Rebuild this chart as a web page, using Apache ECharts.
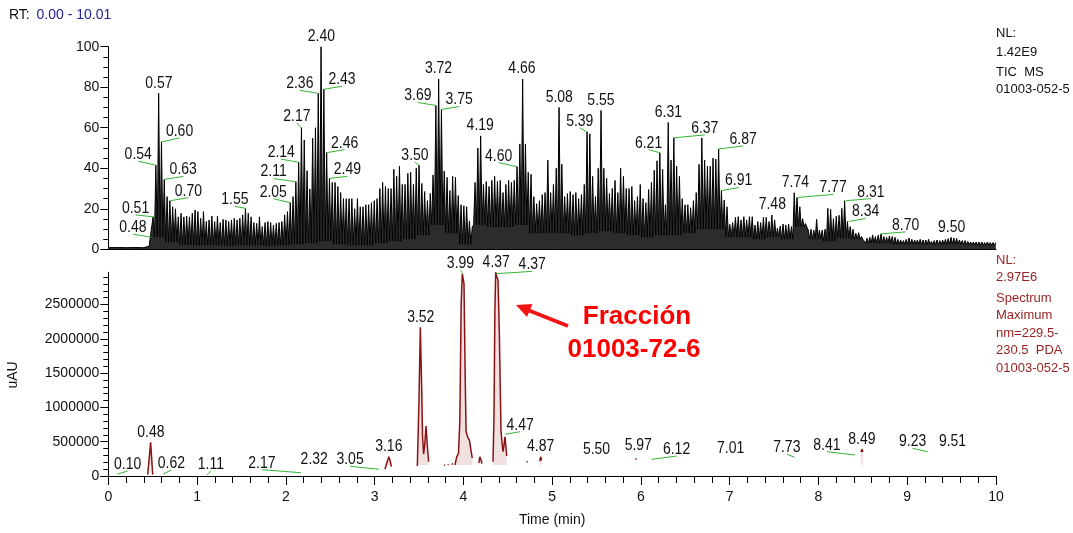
<!DOCTYPE html>
<html><head><meta charset="utf-8">
<script src="https://cdn.jsdelivr.net/npm/echarts@6/dist/echarts.min.js"></script>
<style>html,body{margin:0;padding:0;background:#fff}#c{width:1073px;height:533px}</style>
</head><body><div id="c"></div>
<script>
// ---------- tick labels ----------
const X_TICKS = [0,1,2,3,4,5,6,7,8,9,10];
const TIC_Y_TICKS = [0,20,40,60,80,100];
const PDA_Y_TICKS = [0,500000,1000000,1500000,2000000,2500000];
const PDA_Y_MAX = 2970000;            // NL: 2.97E6

// ---------- TIC (relative abundance, %) ----------
const TIC_SCAN_START = 0.4728;        // first scan time (min)
const TIC_SCAN_STEP = 0.03154;        // scan spacing (min)
const TIC_LEAD_T = [0.00,0.10,0.20,0.30,0.40,0.46];
const TIC_LEAD_V = [0.8,0.9,0.8,0.9,0.8,1.5];
const TIC_PEAKS = [
6,16,41.5,77,53,34.5,26,24,21,20,
16,17.8,16,16.4,16,17.8,19.4,18.6,15.3,18.6,
13.7,14.5,16.4,13.7,16.4,13.2,14.8,14.5,13.7,14.5,
15.3,14.5,15.3,17,20.2,17.8,16,13.2,12.8,16,
11.2,13.2,13.7,13.2,12,12.8,13.2,13.7,17,18.6,
23,26,33.4,43,60,54,38.8,29.8,54.8,60,
77,100,79,47.7,35,33,33,31,28,25,
25,25,25,20,25,21,21,22,22,23,
24,25,30,33,31,30,30,39.5,36,41,
32,32,37.5,38,32,40,41.5,32.5,28.5,24,
27.6,36.7,71,84,69,38.6,35.5,29,36,35.5,
26.5,22,21.5,21,14,11,33,50,56,32,
33.4,31,34,36,33.5,34,28,32,34,33,
34,40.8,52,84,52,38,37,26,22.5,24,
27,28,44,28,32,40,70,42,26,27.5,
28.5,27,28,25,27,32,58,57,36,26,
40,68.5,40,35,27.5,30,34,28,40,36,
30,30,31,24,26,32,25,23,29.5,33,
39,43.7,47.7,39.5,22,62.6,44,55,41,36,
25,22,22,20.5,24,28,42,55,44,41,
41,45,44.5,49.5,29,24.3,21,12.3,13.2,15.8,
16.1,14.5,16.1,14.5,16.1,16.1,12,13.7,13.2,15.8,
15.8,13.7,16.9,14.5,10.4,11.5,12.5,12,12.5,11.2,
27.9,25.6,21,15.1,12.7,9.5,9.9,9.5,14.8,9.5,
9.5,9.9,20.2,19.7,15.1,16.3,16.8,20.2,24,13.7,
11.2,9.9,7.9,8.2,6.3,4.6,5.4,5.9,7.1,6.3,
7.1,7.6,6.3,5.9,6.6,6.3,5.9,4.9,4.6,4.3,
4.9,5.6,4.9,4.6,4.6,4.9,4.6,4.6,4.9,3.9,
4.3,4.6,4.3,4.6,4.9,5.3,5.9,5.6,5.3,4.6,
4.3,4.3,3.9,3.6,3.6,3.6,3.6,3.6,3.3,3.6,
3.3,3.3,3.3];
// dark floor level between scans, one value per block of 5 scans
const TIC_FLOOR = [
6,3.5,2.2,2,2,1.8,2,2,1.8,2,
2.5,3,4,2.5,2,2,3,4,5,7,
12,8,2.5,12,11,11,12,8,8,8,
7,8,9,8,7,6,7,7,8,10,
10,6,6,5,6,5,11,5,4,5.5,
5,3,3,2.5,2.5,2.3,2.3,2.5,2.2,2,
2];

const TIC_LABELS = ["0.48","0.51","0.54","0.57","0.60","0.63","0.70","1.55","2.05","2.11","2.14","2.17","2.36","2.40","2.43","2.46","2.49","3.50","3.69","3.72","3.75","4.19","4.60","4.66","5.08","5.39","5.55","6.21","6.31","6.37","6.87","6.91","7.48","7.74","7.77","8.31","8.34","8.70","9.50"];
const TIC_LABEL_V = [6,16,41.5,77,53,34.5,24,20.2,23,33.4,43,60,77,100,79,47.7,35,41.5,71,84,69,56,40.8,84,70,58,68.5,47.7,62.6,55,49.5,29,17,27.9,25.6,24,13.7,7.6,5.9];

// ---------- PDA (uAU) ----------
const PDA_TIME = [
0.444,0.477,0.50,0.51,
3.117,3.14,3.16,3.175,3.19,3.20,
3.481,3.50,3.515,3.53,3.54,3.552,3.565,3.579,3.595,3.609,3.62,
3.785,3.792,3.80,
3.825,3.832,3.84,
3.87,3.88,3.89,
3.905,3.925,3.945,3.96,3.975,3.988,4.0,4.007,4.02,4.03,4.05,4.067,4.085,4.10,4.11,
4.175,4.185,4.20,4.21,4.22,
4.334,4.345,4.355,4.364,4.377,4.39,4.405,4.424,4.446,4.458,4.469,4.488,4.50,
4.715,4.722,4.73,
4.86,4.87,4.882,4.89,
5.94,5.948,5.95,
8.48,8.49,8.50];
const PDA_VALUE = [
20000,490000,20000,null,
98000,200000,281000,220000,136000,null,
146000,1100000,2168000,1300000,573000,320000,460000,729000,420000,208000,null,
150000,165000,null,
160000,170000,null,
165000,185000,null,
160000,280000,330000,800000,2500000,2950000,2930000,2800000,1500000,650000,560000,525000,380000,262000,null,
190000,280000,230000,180000,null,
208000,900000,2400000,2970000,2900000,2857000,2084000,646000,354000,450000,573000,292000,null,
200000,215000,null,
215000,280000,230000,null,
240000,258000,null,
350000,389000,350000];

const PDA_LABELS = ["0.10","0.48","0.62","1.11","2.17","2.32","3.05","3.16","3.52","3.99","4.37","4.37","4.47","4.87","5.50","5.97","6.12","7.01","7.73","8.41","8.49","9.23","9.51"];
const PDA_LABEL_V = [25000,490000,29000,15000,48000,87000,98000,281000,2168000,2955000,2970000,2950000,608000,280000,233000,300000,243000,258000,272000,306000,389000,354000,354000];

// ---------- label layout (pixel offsets of leader-line ends; 0 = no leader) ----------
const TIC_LBL_DX = [-18,-18,-18,0,18,19,18,-11,-17,-22,-17,-4,-18,0,18,18,18,-4,-18,0,18,0,-18,0,0,-7,0,-11,0,31,25,17,0,0,35,25,17,25,0];
const TIC_LBL_DY = [-3,-2,-4,0,-4,-3,-3,-2,-4,-3,-3,-5,-3,0,-3,-3,-2,-3,-3,0,-3,0,-4,0,0,-4,0,-3,0,-3,-3,-3,0,0,-3,-2,-3,-2,0];
const TIC_LBL_LINE = [1,1,1,0,1,1,1,1,1,1,1,1,1,0,1,1,1,1,1,0,1,0,1,0,0,1,0,1,0,1,1,1,0,0,1,1,1,1,0];
const PDA_LBL_DX = [10.5,0,8,4,-39,0,-29,0,0,-2,0,36,15,0,0,0,25,0,-7.7,-28,0,-15,0];
const PDA_LBL_DY = [-3.3,0,-4,-4,-3,0,-3,0,0,-3,0,-2.3,-2.6,0,0,0,-3.3,0,-3.3,-3.3,0,-3.4,0];
const PDA_LBL_LINE = [1,0,1,1,1,0,1,0,0,1,0,1,1,0,0,0,1,0,1,1,0,1,0];

// ---------- build ----------
const FONT = '"Liberation Sans", Arial, sans-serif';

const ticData = TIC_LEAD_T.map((t, i) => [t, TIC_LEAD_V[i]]);
TIC_PEAKS.forEach((v, i) => {
  const t = TIC_SCAN_START + i * TIC_SCAN_STEP;
  ticData.push([t, v]);
  if (i < TIC_PEAKS.length - 1) ticData.push([t + TIC_SCAN_STEP / 2, TIC_FLOOR[Math.floor(i / 5)]]);
});
const pdaData = PDA_TIME.map((t, i) => [t, PDA_VALUE[i] === null ? '-' : PDA_VALUE[i]]);

function labelSeries(idx, texts, vals, dxs, dys, lines) {
  return {
    type: 'custom', xAxisIndex: idx, yAxisIndex: idx, clip: false, z: 10, silent: true,
    data: texts.map((s, i) => [parseFloat(s), vals[i], i]),
    encode: { x: 0, y: 1 },
    renderItem: function (params, api) {
      const i = api.value(2);
      const p = api.coord([api.value(0), api.value(1)]);
      const children = [];
      let tx, ty;
      if (lines[i]) {
        const ex = p[0] + dxs[i], ey = p[1] + dys[i];
        children.push({ type: 'line', shape: { x1: p[0], y1: p[1], x2: ex, y2: ey },
          style: { stroke: '#33b533', lineWidth: 1 } });
        tx = ex; ty = ey - 6.5;
      } else { tx = p[0]; ty = p[1] - 10; }
      children.push({ type: 'text', x: tx, y: ty, scaleY: 1.13,
        style: { text: texts[i], fill: '#111', font: '14px ' + FONT, align: 'center', verticalAlign: 'middle' } });
      return { type: 'group', children: children };
    }
  };
}

const axisColor = '#000';
const chart = echarts.init(document.getElementById('c'), null, { renderer: 'canvas' });
chart.setOption({
  animation: false,
  backgroundColor: '#fff',
  grid: [
    { left: 108.3, top: 46.7, width: 887.7, height: 202.6, outerBoundsMode: 'none' },
    { left: 108.3, top: 272.3, width: 887.7, height: 203.7, outerBoundsMode: 'none' }
  ],
  xAxis: [
    { type: 'value', gridIndex: 0, min: 0, max: 10, interval: 1,
      axisLine: { show: true, onZero: false, lineStyle: { color: axisColor, width: 1 } },
      axisTick: { show: false }, axisLabel: { show: false }, splitLine: { show: false }, minorTick: { show: false } },
    { type: 'value', gridIndex: 1, min: 0, max: 10, interval: 1,
      axisLine: { show: true, onZero: false, lineStyle: { color: axisColor, width: 1 } },
      axisTick: { show: true, length: 9, customValues: X_TICKS, lineStyle: { color: axisColor } },
      minorTick: { show: true, splitNumber: 5, length: 7, lineStyle: { color: axisColor } },
      axisLabel: { customValues: X_TICKS, margin: 14, color: '#111', fontSize: 14, fontFamily: FONT },
      splitLine: { show: false }, minorSplitLine: { show: false },
      name: 'Time (min)', nameLocation: 'middle', nameGap: 37,
      nameTextStyle: { color: '#111', fontSize: 14, fontFamily: FONT } }
  ],
  yAxis: [
    { type: 'value', gridIndex: 0, min: 0, max: 100, interval: 20,
      axisLine: { show: true, onZero: false, lineStyle: { color: axisColor, width: 1 } },
      axisTick: { show: true, length: 8, customValues: TIC_Y_TICKS, lineStyle: { color: axisColor } },
      minorTick: { show: true, splitNumber: 4, length: 5, lineStyle: { color: axisColor } },
      axisLabel: { customValues: TIC_Y_TICKS, margin: 9, color: '#111', fontSize: 14, fontFamily: FONT },
      splitLine: { show: false } },
    { type: 'value', gridIndex: 1, min: 0, max: PDA_Y_MAX, interval: 500000,
      axisLine: { show: true, onZero: false, lineStyle: { color: axisColor, width: 1 } },
      axisTick: { show: true, length: 8, customValues: PDA_Y_TICKS, lineStyle: { color: axisColor } },
      minorTick: { show: true, splitNumber: 5, length: 5, lineStyle: { color: axisColor } },
      axisLabel: { customValues: PDA_Y_TICKS, margin: 9, color: '#111', fontSize: 14, fontFamily: FONT,
        formatter: v => String(v) },
      splitLine: { show: false } }
  ],
  series: [
    { type: 'line', xAxisIndex: 0, yAxisIndex: 0, data: ticData, symbol: 'none', showSymbol: false,
      sampling: null, lineStyle: { color: '#000', width: 1 },
      areaStyle: { color: '#151515', opacity: 0.9, origin: 'start' }, z: 2, silent: true },
    { type: 'line', xAxisIndex: 1, yAxisIndex: 1, data: pdaData, symbol: 'none', showSymbol: false,
      connectNulls: false, lineStyle: { color: '#8b1212', width: 1.5 },
      areaStyle: { color: 'rgba(185,110,110,0.3)', origin: 160000 }, z: 2, silent: true },
    labelSeries(0, TIC_LABELS, TIC_LABEL_V, TIC_LBL_DX, TIC_LBL_DY, TIC_LBL_LINE),
    labelSeries(1, PDA_LABELS, PDA_LABEL_V, PDA_LBL_DX, PDA_LBL_DY, PDA_LBL_LINE)
  ],
  graphic: [
    { type: 'text', x: 9, y: 15, style: { text: 'RT:', fill: '#111', font: '14px ' + FONT, verticalAlign: 'middle' } },
    { type: 'text', x: 36.5, y: 15, style: { text: '0.00 - 10.01', fill: '#22229c', font: '14px ' + FONT, verticalAlign: 'middle' } },
    { type: 'text', x: 996, y: 23.5, style: { text: 'NL:\n1.42E9', fill: '#111', font: '13px ' + FONT, lineHeight: 19, verticalAlign: 'top' } },
    { type: 'text', x: 996, y: 63.5, style: { text: 'TIC  MS\n01003-052-5', fill: '#111', font: '13px ' + FONT, lineHeight: 17, verticalAlign: 'top' } },
    { type: 'text', x: 996, y: 251.5, style: { text: 'NL:\n2.97E6', fill: '#961e1e', font: '13px ' + FONT, lineHeight: 17, verticalAlign: 'top' } },
    { type: 'text', x: 996, y: 289.2, style: { text: 'Spectrum\nMaximum\nnm=229.5-\n230.5  PDA\n01003-052-5', fill: '#961e1e', font: '13px ' + FONT, lineHeight: 17.5, verticalAlign: 'top' } },
    { type: 'text', x: 13, y: 375, rotation: Math.PI / 2, style: { text: 'uAU', fill: '#111', font: '14px ' + FONT, align: 'center', verticalAlign: 'middle' } },
    { type: 'text', x: 637, y: 317, style: { text: 'Fracción', fill: '#ff0000', font: 'bold 26px ' + FONT, align: 'center', verticalAlign: 'middle' } },
    { type: 'text', x: 634, y: 350, style: { text: '01003-72-6', fill: '#ff0000', font: 'bold 26px ' + FONT, align: 'center', verticalAlign: 'middle' } },
    { type: 'line', shape: { x1: 568, y1: 326, x2: 529, y2: 310.5 }, style: { stroke: '#f01414', lineWidth: 4 } },
    { type: 'polygon', shape: { points: [[516, 305], [532.5, 304], [527, 317]] }, style: { fill: '#f01414' } }
  ]
});
</script>
</body></html>
